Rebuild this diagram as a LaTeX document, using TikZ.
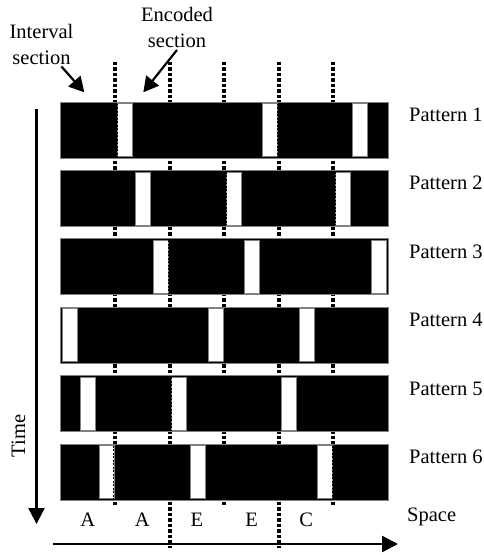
\documentclass[tikz,border=0pt]{standalone}
\usepackage{fontspec}
\setmainfont{Liberation Serif}
\usetikzlibrary{arrows.meta}
\begin{document}
\begin{tikzpicture}[x=1pt,y=-1pt,
	every node/.style={font=\fontsize{20.5}{26}\selectfont,inner sep=2pt},
	bar/.style={fill=black,draw=gray,line width=0.8pt},
	slit/.style={fill=white,draw=gray,line width=0.6pt},
	slitedge/.style={line width=1pt,dash pattern=on 2pt off 1.5pt},
	border/.style={line width=4pt,dash pattern=on 3.5pt off 2pt},
	bigarrow/.style={line width=2.4pt,-{Triangle[length=16pt,width=16pt]}},
	ptr/.style={line width=2.2pt,-{Triangle[length=15pt,width=16pt]}}]
\useasboundingbox (0,0) rectangle (484,555);
% section borders
\draw [border] (115.1,61.7) -- (115.1,507);
\draw [border] (169.7,61.7) -- (169.7,548);
\draw [border] (224.2,61.7) -- (224.2,507);
\draw [border] (278.8,61.7) -- (278.8,548);
\draw [border] (333.4,61.7) -- (333.4,507);
% pattern 1
\draw [bar] (60.5,102) rectangle (388,158);
\draw [slit] (117.1,103.5) rectangle (132.1,156.5);
\draw [slit] (262.6,103.5) rectangle (277.6,156.5);
\draw [slit] (352,103.5) rectangle (367,156.5);
\draw [slitedge] (117.1,103.5) -- (117.1,156.5);
\draw [slitedge] (277.6,103.5) -- (277.6,156.5);
% pattern 2
\draw [bar] (60.5,170.4) rectangle (388,226.4);
\draw [slit] (135.3,171.9) rectangle (150.3,224.9);
\draw [slit] (226.2,171.9) rectangle (241.2,224.9);
\draw [slit] (335.4,171.9) rectangle (350.4,224.9);
\draw [slitedge] (226.2,171.9) -- (226.2,224.9);
\draw [slitedge] (335.4,171.9) -- (335.4,224.9);
% pattern 3
\draw [bar] (60.5,238.8) rectangle (388,294.8);
\draw [slit] (153.5,240.3) rectangle (168.5,293.3);
\draw [slit] (244.4,240.3) rectangle (259.4,293.3);
\draw [slit] (371.7,240.3) rectangle (386.7,293.3);
\draw [slitedge] (168.5,240.3) -- (168.5,293.3);
% pattern 4
\draw [bar] (60.5,307.2) rectangle (388,363.2);
\draw [slit] (62.5,308.7) rectangle (77.5,361.7);
\draw [slit] (208,308.7) rectangle (223,361.7);
\draw [slit] (299,308.7) rectangle (314,361.7);
% pattern 5
\draw [bar] (60.5,375.6) rectangle (388,431.6);
\draw [slit] (80.7,377.1) rectangle (95.7,430.1);
\draw [slit] (171.6,377.1) rectangle (186.6,430.1);
\draw [slit] (280.8,377.1) rectangle (295.8,430.1);
\draw [slitedge] (171.6,377.1) -- (171.6,430.1);
\draw [slitedge] (280.8,377.1) -- (280.8,430.1);
% pattern 6
\draw [bar] (60.5,444) rectangle (388,500);
\draw [slit] (98.9,445.5) rectangle (113.9,498.5);
\draw [slit] (189.8,445.5) rectangle (204.8,498.5);
\draw [slit] (317.2,445.5) rectangle (332.2,498.5);
\draw [slitedge] (113.9,445.5) -- (113.9,498.5);
\draw [slitedge] (332.2,445.5) -- (332.2,498.5);
% labels
\node (p1) [anchor=base west] at (407,121.5) {Pattern 1};
\node (p2) [anchor=base west] at (407,189.9) {Pattern 2};
\node (p3) [anchor=base west] at (407,258.3) {Pattern 3};
\node (p4) [anchor=base west] at (407,326.7) {Pattern 4};
\node (p5) [anchor=base west] at (407,395.1) {Pattern 5};
\node (p6) [anchor=base west] at (407,463.5) {Pattern 6};
\node (space) [anchor=base west] at (405,521.5) {Space};
\node (ltr1) [anchor=base] at (87.8,526.5) {A};
\node (ltr2) [anchor=base] at (142.4,526.5) {A};
\node (ltr3) [anchor=base] at (197,526.5) {E};
\node (ltr4) [anchor=base] at (251.6,526.5) {E};
\node (ltr5) [anchor=base] at (306.2,526.5) {C};
\node (time) [anchor=base,rotate=90] at (25,436) {Time};
\node (intv) [align=center] at (41.5,44) {Interval\\section};
\node (enc) [align=center] at (177,27.5) {Encoded\\section};
% pointers and axes
\coordinate (intvtip) at (84.3,92.3);
\coordinate (enctip) at (143.3,92.3);
\draw [ptr] (intv) -- (intvtip);
\draw [ptr] (enc.south) -- (enctip);
\coordinate (ttop) at (36.5,109);
\coordinate (tend) at (36.5,524);
\coordinate (sleft) at (53,544);
\coordinate (send) at (398,544);
\draw [bigarrow] (ttop) -- (tend);
\draw [bigarrow] (sleft) -- (send);
\end{tikzpicture}
\end{document}
